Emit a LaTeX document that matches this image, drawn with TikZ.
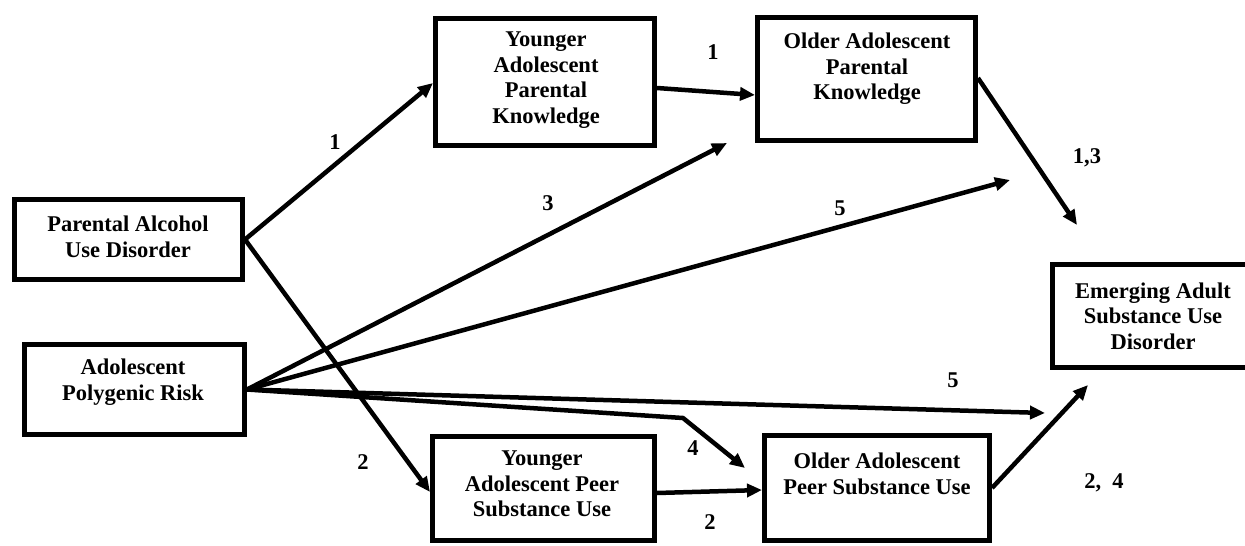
\documentclass[tikz,border=0pt]{standalone}
\usepackage{fontspec}
\setmainfont{Liberation Serif}
\usetikzlibrary{arrows.meta,calc}
\begin{document}
\begin{tikzpicture}[x=1pt,y=-1pt,
  box/.style={draw,line width=5pt,inner sep=0pt},
  txt/.style={font=\fontsize{22.5}{25.5}\selectfont\bfseries,align=center,inner sep=0pt},
  lbl/.style={font=\fontsize{22.5}{25.5}\selectfont\bfseries,inner sep=0pt},
  arr/.style={line width=4.5pt,-{Triangle[length=15pt,width=13pt]}},
]
\useasboundingbox (0,0) rectangle (1245,546);
\clip (0,0) rectangle (1245,546);
\fill[white] (0,0) rectangle (1245,546);

% boxes
\node[box,minimum width=228pt,minimum height=80pt]  (pa)   at (128.5,239.5) {};
\node[box,minimum width=220pt,minimum height=90pt]  (apr)  at (134.5,389.5) {};
\node[box,minimum width=219pt,minimum height=127pt] (yapk) at (545,82) {};
\node[box,minimum width=218pt,minimum height=123pt] (oapk) at (866.5,79) {};
\node[box,minimum width=201pt,minimum height=103pt] (ea)   at (1153,316) {};
\node[box,minimum width=222pt,minimum height=104pt] (yaps) at (543.5,488.5) {};
\node[box,minimum width=225pt,minimum height=105pt] (oaps) at (877,488) {};

% box texts
\node[txt] (pa-t)   at (128,237)   {Parental Alcohol\\Use Disorder};
\node[txt] (apr-t)  at (133,382)   {Adolescent\\Polygenic Risk};
\node[txt] (yapk-t) at (546,80)    {Younger\\Adolescent\\Parental\\Knowledge};
\node[txt] (oapk-t) at (867,69)    {Older Adolescent\\Parental\\Knowledge};
\node[txt] (ea-t)   at (1153,316)  {Emerging Adult\\Substance Use\\Disorder};
\node[txt] (yaps-t) at (542,484)   {Younger\\Adolescent Peer\\Substance Use};
\node[txt] (oaps-t) at (877,474)   {Older Adolescent\\Peer Substance Use};

% free ends
\coordinate (c3)  at (727,143);
\coordinate (c5a) at (1010,180);
\coordinate (c5b) at (1045,413);
\coordinate (b4)  at (683,418);
\coordinate (c4)  at (745,468);
\coordinate (c13) at (1077,225);
\coordinate (c24) at (1088,385);

% connectors
\draw[arr] (pa.east) -- (yapk.west |- 0,83);
\draw[arr] (pa.east) -- (yaps.west |- 0,492);
\draw[arr] (apr.east) -- (c3);
\draw[arr] (apr.east) -- (c5a);
\draw[arr] (apr.east) -- (c5b);
\draw[arr] (apr.east) -- (b4) -- (c4);
\draw[arr] (yapk.east |- 0,88) -- (oapk.west |- 0,95);
\draw[arr] (oapk.east |- 0,78) -- (c13);
\draw[arr] (yaps.east |- 0,493) -- (oaps.west |- 0,490);
\draw[arr] (oaps.east |- 0,488) -- (c24);

% labels
\node[lbl] (l1a) at (335,142) {1};
\node[lbl] (l2a) at (363,462) {2};
\node[lbl] (l3)  at (548,203) {3};
\node[lbl] (l5a) at (840,208) {5};
\node[lbl] (l5b) at (953,380) {5};
\node[lbl] (l1b) at (713,52)  {1};
\node[lbl] (l4)  at (693,448) {4};
\node[lbl] (l2b) at (710,522) {2};
\node[lbl] (l13) at (1087,158) {1,3};
\node[lbl] (l24) at (1104,483) {2,\ \ 4};
\end{tikzpicture}
\end{document}
